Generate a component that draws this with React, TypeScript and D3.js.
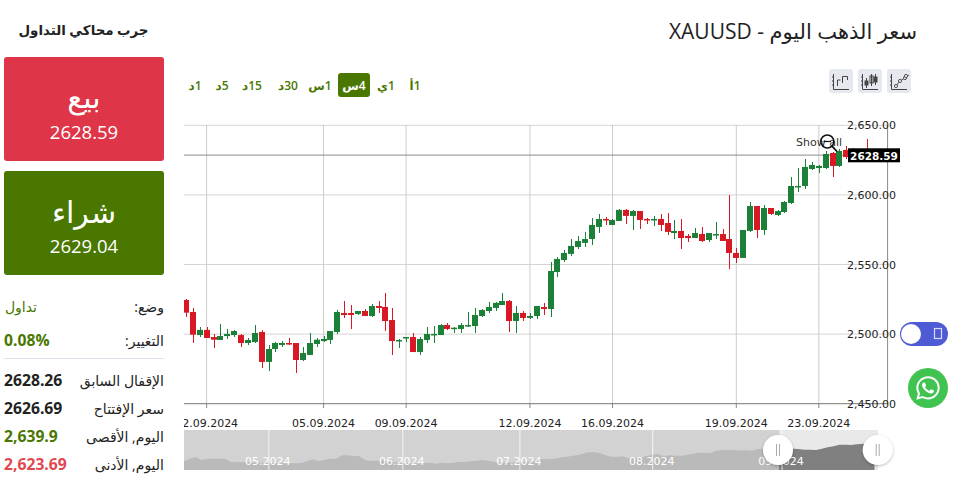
import React from "react";
import * as d3 from "d3";

const opens = [2524.5,2515.9,2499.3,2503.0,2497.9,2495.8,2498.6,2499.3,2499.3,2493.6,
2494.3,2501.5,2480.0,2489.3,2492.2,2493.6,2493.6,2481.4,2485.0,2492.9,
2495.0,2495.8,2501.5,2515.2,2515.2,2514.4,2516.6,2513.0,2520.2,2519.5,
2510.1,2495.0,2497.0,2497.9,2487.1,2495.8,2499.6,2499.3,2506.5,2503.9,
2503.7,2505.6,2505.8,2513.0,2516.6,2518.8,2520.9,2523.8,2509.4,2515.2,
2511.6,2513.0,2519.5,2518.0,2544.6,2553.2,2557.6,2562.6,2565.5,2568.3,
2577.0,2582.7,2578.4,2581.3,2589.2,2584.9,2588.4,2582.7,2582.0,2582.7,
2579.8,2572.6,2574.1,2570.5,2569.0,2571.9,2567.6,2571.2,2571.9,2568.3,
2558.3,2554.7,2574.1,2592.0,2574.8,2590.6,2585.6,2587.7,2594.2,2605.7,
2606.4,2618.6,2619.3,2619.3,2630.1,2620.8,2632.3,2627.0,2632.0,2630.0];
const highs = [2525.2,2518.5,2504.9,2504.9,2499.8,2507.0,2503.4,2503.0,2499.8,2497.0,
2506.3,2503.0,2491.9,2494.6,2495.0,2497.0,2493.6,2491.0,2500.6,2497.2,
2498.9,2502.2,2517.3,2523.5,2520.7,2516.6,2517.8,2521.6,2523.5,2529.3,
2518.5,2496.7,2498.1,2500.6,2497.7,2505.3,2506.0,2507.2,2507.7,2505.3,
2507.7,2515.6,2518.5,2517.8,2522.8,2523.3,2529.5,2524.3,2520.0,2516.6,
2515.2,2520.2,2522.4,2551.6,2555.4,2560.2,2568.1,2570.2,2573.1,2583.2,
2586.0,2583.9,2582.5,2589.9,2589.9,2589.2,2588.5,2583.4,2584.9,2586.0,
2586.8,2582.0,2582.7,2571.9,2576.2,2576.7,2572.6,2580.8,2575.5,2599.7,
2561.6,2574.8,2594.7,2592.1,2592.5,2590.7,2589.2,2595.6,2612.9,2619.1,
2625.8,2623.7,2621.5,2631.3,2630.6,2632.8,2635.1,2634.0,2633.0,2639.9];
const lows = [2512.5,2493.8,2498.1,2497.0,2489.8,2495.6,2496.7,2497.7,2490.5,2492.4,
2493.8,2475.4,2473.7,2486.9,2491.0,2492.2,2472.3,2480.9,2484.9,2491.0,
2494.3,2492.9,2500.1,2511.8,2503.9,2513.5,2513.0,2512.5,2515.4,2502.5,
2485.2,2490.3,2494.6,2487.0,2485.2,2493.4,2493.4,2499.2,2503.0,2501.0,
2500.6,2504.9,2501.0,2512.5,2515.4,2516.8,2520.8,2501.8,2501.0,2509.7,
2511.1,2511.1,2513.7,2512.5,2541.3,2552.0,2556.1,2561.1,2562.8,2563.8,
2572.9,2578.4,2578.2,2581.2,2579.1,2575.0,2575.5,2579.1,2577.9,2574.3,
2571.2,2568.1,2560.9,2566.4,2569.0,2565.9,2566.4,2568.1,2566.8,2546.5,
2551.3,2554.6,2573.6,2569.3,2571.2,2585.6,2584.6,2587.2,2593.5,2602.3,
2604.5,2617.9,2616.0,2618.9,2613.1,2619.8,2625.6,2625.0,2627.0,2623.69];
const closes = [2515.4,2499.6,2503.0,2497.2,2496.0,2498.6,2500.1,2502.2,2493.6,2495.8,
2500.8,2480.0,2489.3,2493.6,2493.6,2492.9,2481.4,2486.4,2493.6,2496.0,
2496.5,2502.2,2515.9,2513.7,2513.7,2516.6,2513.0,2520.2,2518.8,2509.4,
2495.0,2495.8,2497.9,2487.1,2496.5,2500.1,2500.1,2506.5,2503.7,2504.6,
2506.5,2506.5,2513.7,2517.3,2519.5,2522.4,2523.8,2509.4,2515.2,2511.6,
2513.0,2520.2,2518.0,2545.3,2554.0,2558.3,2563.3,2566.9,2568.3,2578.4,
2582.7,2582.0,2582.0,2589.2,2584.9,2588.4,2582.0,2582.0,2582.7,2578.4,
2573.4,2574.1,2569.0,2569.0,2572.6,2566.9,2572.6,2571.9,2566.9,2558.3,
2554.7,2574.8,2592.0,2574.8,2590.6,2586.3,2588.4,2594.9,2606.4,2606.4,
2620.1,2621.5,2620.8,2629.4,2620.8,2631.6,2627.2,2632.0,2630.0,2628.59];

const priceTicks = [2450, 2500, 2550, 2600, 2650];
const dateTickIndex = [3, 20, 32, 50, 62, 80, 92];
const dateTickLabels = ["02.09.2024", "05.09.2024", "09.09.2024", "12.09.2024", "16.09.2024", "19.09.2024", "23.09.2024"];
const lastPrice = 2628.59;

const navValues = [2303,2354,2379,2329,2354,2354,2354,2354,2297,2285,2291,2285,2278,2278,2272,2272,2266,2266,2266,2266,2272,2303,2341,2310,2329,2354,2354,2417,2417,2404,2398,2322,2310,2316,2322,2316,2285,2278,2266,2266,2259,
2278,2278,2259,2278,2266,2278,2291,2291,2303,2316,2329,2310,2297,2278,2278,2278,2285,2291,2297,2303,2348,2348,2348,2366,2385,2398,2417,2442,2473,2480,2461,2417,2392,2392,2398,2360,2366,2366,2404,2429,2442,
2404,2417,2410,2410,2429,2448,2467,2461,2461,2505,2517,2524,2517,2505,2511,2505,2530,2543,2555,2580,2574,2568,2543,2536,2524,2524,2517,2543,2568,2587,2618,2618,2612,2624,2637,2618,2605];
const navMonthIndex = [14.5, 37.4, 57.4, 80.1, 102.2];
const navMonthLabels = ["05.2024", "06.2024", "07.2024", "08.2024", "09.2024"];
const navWindowStart = 101.7;

const timeframes = ["1أ", "1ي", "4س", "1س", "30د", "15د", "5د", "1د"];
const timeframeCenters = [415, 386, 354, 320, 288, 252, 222, 195];
const statLabels = ["الإقفال السابق", "سعر الإفتتاح", "اليوم, الأقصى", "اليوم, الأدنى"];
const statValues = ["2628.26", "2626.69", "2,639.9", "2,623.69"];
const statColors = ["#222222", "#222222", "#4a7700", "#e2474f"];

const GREEN = "#1b8138";
const RED = "#d81824";
const BRAND = "#4a7700";
const SANS = "'Open Sans','DejaVu Sans',sans-serif";
const AXIS = "'DejaVu Sans',sans-serif";
const WA = "M17.472 14.382c-.297-.149-1.758-.867-2.03-.967-.273-.099-.471-.148-.67.15-.197.297-.767.966-.94 1.164-.173.199-.347.223-.644.075-.297-.15-1.255-.463-2.39-1.475-.883-.788-1.48-1.761-1.653-2.059-.173-.297-.018-.458.13-.606.134-.133.298-.347.446-.52.149-.174.198-.298.298-.497.099-.198.05-.371-.025-.52-.075-.149-.669-1.612-.916-2.207-.242-.579-.487-.5-.669-.51-.173-.008-.371-.01-.57-.01-.198 0-.52.074-.792.372-.272.297-1.04 1.016-1.04 2.479 0 1.462 1.065 2.875 1.213 3.074.149.198 2.096 3.2 5.077 4.487.709.306 1.262.489 1.694.625.712.227 1.36.195 1.871.118.571-.085 1.758-.719 2.006-1.413.248-.694.248-1.289.173-1.413-.074-.124-.272-.198-.57-.347m-5.421 7.403h-.004a9.87 9.87 0 01-5.031-1.378l-.361-.214-3.741.982.998-3.648-.235-.374a9.86 9.86 0 01-1.51-5.26c.001-5.45 4.436-9.884 9.888-9.884 2.64 0 5.122 1.03 6.988 2.898a9.825 9.825 0 012.893 6.994c-.003 5.45-4.437 9.884-9.885 9.884m8.413-18.297A11.815 11.815 0 0012.05 0C5.495 0 .16 5.335.157 11.892c0 2.096.547 4.142 1.588 5.945L.057 24l6.305-1.654a11.882 11.882 0 005.683 1.448h.005c6.554 0 11.89-5.335 11.893-11.893a11.821 11.821 0 00-3.48-8.413z";

export default function App() {
  const x = d3.scaleLinear().domain([0, 99]).range([186, 867]);
  const y = d3.scaleLinear().domain([2450, 2650]).range([403.7, 125.3]);
  const navX = d3.scaleLinear().domain([0, 118.6]).range([184, 878]);
  const navY = d3.scaleLinear().domain([2140, 2895]).range([470, 430]);
  const navArea = d3.area<number>().x((_, i) => navX(i)).y0(470).y1((v) => navY(v));
  const navPath = navArea(navValues) || "";
  const windowX = navX(navWindowStart);
  const fmt = d3.format(",.2f");

  return (
    <svg width={956} height={490} style={{ position: "fixed", left: 0, top: 0, background: "#fff" }}>
      <defs>
        <clipPath id="plot"><rect x={184} y={120} width={704} height={284} /></clipPath>
        <clipPath id="dates"><rect x={184} y={408} width={720} height={22} /></clipPath>
        <clipPath id="navWin"><rect x={windowX} y={430} width={878 - windowX} height={40} /></clipPath>
        <filter id="sh" x="-30%" y="-30%" width="160%" height="160%"><feDropShadow dx="0" dy="1" stdDeviation="1.5" floodColor="#000" floodOpacity="0.3" /></filter>
      </defs>

      {/* Title */}
      <text x={917} y={39} direction="rtl" textAnchor="start" fontFamily={SANS} fontSize={21} fill="#222">سعر الذهب اليوم - XAUUSD</text>
      <text x={83.5} y={35} direction="rtl" textAnchor="middle" fontFamily={SANS} fontSize={13.4} fontWeight={700} fill="#222">جرب محاكي التداول</text>

      {/* Sell / buy */}
      <rect x={4} y={57} width={160} height={104} rx={3} fill="#de3548" />
      <text x={84} y={108} direction="rtl" textAnchor="middle" fontFamily={SANS} fontSize={30} fill="#fff">بيع</text>
      <text x={84} y={139} textAnchor="middle" fontFamily={SANS} fontSize={18.5} fill="#fff">2628.59</text>
      <rect x={4} y={171} width={160} height={104} rx={3} fill={BRAND} />
      <text x={84} y={223} direction="rtl" textAnchor="middle" fontFamily={SANS} fontSize={30} fill="#fff">شراء</text>
      <text x={84} y={253} textAnchor="middle" fontFamily={SANS} fontSize={18.5} fill="#fff">2629.04</text>

      {/* Stats */}
      <text x={164} y={312} direction="rtl" textAnchor="start" fontFamily={SANS} fontSize={14} fill="#222">وضع:</text>
      <text x={37} y={312} direction="rtl" textAnchor="start" fontFamily={SANS} fontSize={14} fill={BRAND}>تداول</text>
      <text x={164} y={346} direction="rtl" textAnchor="start" fontFamily={SANS} fontSize={14} fill="#222">التغيير:</text>
      <text x={4} y={346} fontFamily={SANS} fontSize={15.7} fontWeight={700} fill={BRAND}>0.08%</text>
      <line x1={4} x2={164} y1={358.5} y2={358.5} stroke="#dfe1ea" />
      {statLabels.map((l, i) => (
        <g key={l}>
          <text x={164} y={386 + i * 28} direction="rtl" textAnchor="start" fontFamily={SANS} fontSize={14} fill="#222">{l}</text>
          <text x={4} y={386 + i * 28} fontFamily={SANS} fontSize={15.7} fontWeight={700} fill={statColors[i]}>{statValues[i]}</text>
        </g>
      ))}

      {/* Timeframes */}
      <rect x={338} y={73} width={32} height={24} rx={3} fill={BRAND} />
      {timeframes.map((t, i) => (
        <text key={t} x={timeframeCenters[i]} y={90} direction="rtl" textAnchor="middle" fontFamily={SANS} fontSize={12} fontWeight={600} fill={i === 2 ? "#fff" : BRAND}>{t}</text>
      ))}

      {/* Chart type icons */}
      {[829, 858, 887].map((ix) => (
        <g key={ix} transform={`translate(${ix},69)`}>
          <rect width={24} height={24} rx={3} fill="#e6e8f0" />
          <path d="M4.5 5V20.5H20" stroke="#444" strokeWidth={1} fill="none" />
          <path d="M3 8H5M3 12H5M3 16H5" stroke="#444" strokeWidth={1} fill="none" />
        </g>
      ))}
      <path d="M837.5 86V80H840.5M842.5 83V76.5H847.5V80" stroke="#444" fill="none" />
      <g stroke="#444" fill="#444">
        <line x1={866.5} x2={866.5} y1={78} y2={88} /><rect x={865} y={81} width={3} height={4} />
        <line x1={871.5} x2={871.5} y1={74} y2={86} /><rect x={870} y={76} width={3} height={7} fill="none" />
        <line x1={875.5} x2={875.5} y1={74} y2={85} /><rect x={874} y={77} width={3} height={5} />
      </g>
      <g stroke="#555" fill="#e6e8f0">
        <path d="M896 86L900 81L905 78L909 75" fill="none" />
        <circle cx={896} cy={86} r={1.6} /><circle cx={900} cy={81} r={1.6} /><circle cx={905} cy={78} r={1.6} /><circle cx={906} cy={76} r={1.6} />
      </g>

      {/* Grid */}
      {priceTicks.slice(1).map((t) => (
        <line key={t} x1={184} x2={888} y1={y(t)} y2={y(t)} stroke="#d4d4d4" strokeWidth={1} />
      ))}
      {dateTickIndex.map((d) => (
        <line key={d} x1={x(d)} x2={x(d)} y1={125} y2={404} stroke="#cccccc" strokeWidth={1} />
      ))}
      <line x1={184} x2={888} y1={y(lastPrice)} y2={y(lastPrice)} stroke="#8c8c8c" strokeWidth={1} />

      {/* Candles */}
      <g clipPath="url(#plot)">
        {opens.map((o, i) => {
          const c = closes[i];
          const col = c >= o ? GREEN : RED;
          const left = Math.round(x(i) - 3);
          const top = y(Math.max(o, c));
          const bot = y(Math.min(o, c));
          return (
            <g key={i} fill={col}>
              <rect x={left + 3} width={1} y={y(highs[i])} height={y(lows[i]) - y(highs[i])} shapeRendering="crispEdges" />
              <rect x={left} width={6} y={top} height={Math.max(bot - top, 1.5)} />
            </g>
          );
        })}
      </g>

      {/* Axes */}
      <line x1={184} x2={888} y1={403.7} y2={403.7} stroke="#777" strokeWidth={1} />
      <line x1={887.6} x2={887.6} y1={125} y2={404} stroke="#888" strokeWidth={1} />
      {dateTickIndex.map((d) => (
        <line key={d} x1={x(d)} x2={x(d)} y1={404} y2={408} stroke="#888" strokeWidth={1} />
      ))}
      {priceTicks.map((t) => (
        <text key={t} x={896} y={y(t) + 4} textAnchor="end" fontFamily={AXIS} fontSize={11} fill="#222">{fmt(t)}</text>
      ))}
      <g clipPath="url(#dates)">
        {dateTickIndex.map((d, i) => (
          <text key={d} x={x(d)} y={427} textAnchor="middle" fontFamily={AXIS} fontSize={11} fill="#222">{dateTickLabels[i]}</text>
        ))}
      </g>

      {/* Last price label */}
      <rect x={848} y={148.3} width={52} height={14} fill="#000" />
      <text x={874} y={159.5} textAnchor="middle" fontFamily={AXIS} fontSize={10.5} fontWeight={700} fill="#fff">{String(lastPrice)}</text>

      {/* Show all */}
      <text x={796} y={146} fontFamily={AXIS} fontSize={11} fill="#333">Show all</text>
      <circle cx={827.3} cy={141.5} r={6.5} fill="none" stroke="#111" strokeWidth={1.5} />
      <line x1={823.5} x2={831} y1={141.5} y2={141.5} stroke="#111" strokeWidth={1.2} />
      <line x1={832} x2={837} y1={146.2} y2={151.5} stroke="#111" strokeWidth={1.8} />

      {/* Navigator */}
      <rect x={184} y={430} width={694} height={40} fill="#d2d2d2" />
      <path d={navPath} fill="#bababa" />
      <g clipPath="url(#navWin)">
        <rect x={windowX} y={430} width={878 - windowX} height={40} fill="#e9e9e9" />
        <path d={navPath} fill="#808080" />
      </g>
      {navMonthIndex.map((m, i) => (
        <g key={m}>
          <line x1={navX(m)} x2={navX(m)} y1={430} y2={470} stroke="#fff" strokeOpacity={0.8} />
          <text x={navX(m) - 1} y={465} textAnchor="middle" fontFamily={AXIS} fontSize={11} fill="#fff">{navMonthLabels[i]}</text>
        </g>
      ))}
      {[778, 877.7].map((hx) => (
        <g key={hx}>
          <circle cx={hx} cy={450} r={15} fill="#fff" filter="url(#sh)" />
          <path d={`M${hx - 1.5} 444V456M${hx + 1.5} 444V456`} stroke="#aaa" fill="none" />
        </g>
      ))}

      {/* Toggle */}
      <rect x={900} y={322} width={48} height={24} rx={12} fill="#4f5bd5" />
      <circle cx={911} cy={334} r={10} fill="#fff" />
      <rect x={934.5} y={328.5} width={7} height={10} fill="none" stroke="#d9dcf7" strokeWidth={1.2} />

      {/* WhatsApp */}
      <circle cx={928} cy={388} r={20} fill="#40c351" />
      <path d={WA} fill="#fff" transform="translate(916.2,376.2) scale(0.98)" />
    </svg>
  );
}
